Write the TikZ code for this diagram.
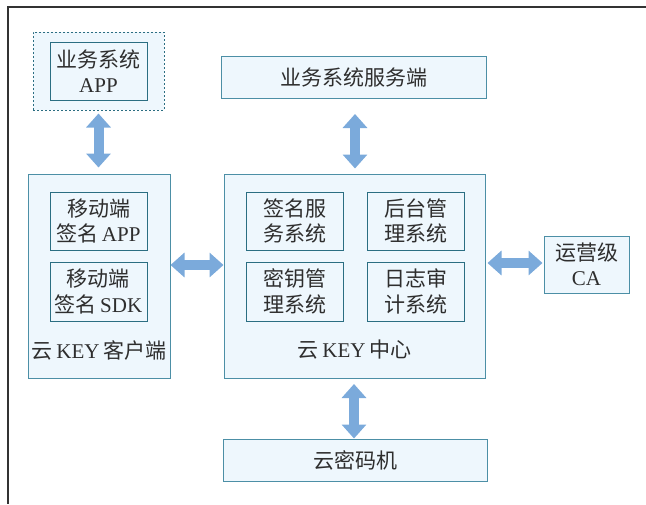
\documentclass[tikz,border=0pt]{standalone}
\usepackage{fontspec}
\setmainfont{Liberation Serif}
\newfontfamily\cjk{Noto Sans CJK SC}
\usetikzlibrary{arrows.meta}
\definecolor{boxfill}{HTML}{EEF7FD}
\definecolor{innerline}{HTML}{2B6E82}
\definecolor{outerline}{HTML}{4C8FA6}
\definecolor{arrowblue}{HTML}{7BAADB}
\definecolor{txt}{HTML}{2E2E2E}
\definecolor{frame}{HTML}{333333}
\tikzset{
  base/.style={draw, fill=boxfill, text=txt, align=center, inner sep=0pt,
    font=\fontsize{21}{25.5}\selectfont, line width=1pt},
  outerbox/.style={base, draw=outerline},
  innerbox/.style={base, draw=innerline, minimum width=97pt, minimum height=58pt},
  dashbox/.style={draw=innerline, fill=boxfill, dash pattern=on 2pt off 2pt, line width=1pt,
    minimum width=131pt, minimum height=78pt},
  lbl/.style={text=txt, font=\fontsize{21}{25.5}\selectfont, inner sep=0pt},
  bigarrow/.style={draw=arrowblue, line width=10pt,
    {Triangle[width=24pt,length=14pt]}-{Triangle[width=24pt,length=14pt]}},
}
\begin{document}
\begin{tikzpicture}[x=1pt,y=-1pt]
\useasboundingbox (0,0) rectangle (646,504);
\draw[frame, line width=1.6pt] (646,7) -- (8,7) -- (8,504);

% business app
\node[dashbox] (appouter) at (98.5,71) {};
\node[innerbox] (app) at (98.5,71) {{\cjk 业务系统}\\APP};

% server
\node[outerbox, minimum width=265pt, minimum height=42pt] (server) at (353.5,77) {\cjk 业务系统服务端};

% client
\node[outerbox, minimum width=142pt, minimum height=204pt] (client) at (99,276) {};
\node[innerbox] (mapp) at (98.5,221) {{\cjk 移动端}\\{\cjk 签名}\,APP};
\node[innerbox, minimum height=59pt] (msdk) at (98.5,291.5) {{\cjk 移动端}\\{\cjk 签名}\,SDK};
\node[lbl] (clientlbl) at (99,350) {{\cjk 云}\,KEY\,{\cjk 客户端}};

% center
\node[outerbox, minimum width=261pt, minimum height=204pt] (center) at (354.5,276) {};
\node[innerbox] (sign) at (294.5,221) {\cjk 签名服\\\cjk 务系统};
\node[innerbox] (admin) at (415.5,221) {\cjk 后台管\\\cjk 理系统};
\node[innerbox, minimum height=59pt] (keymgmt) at (294.5,291.5) {\cjk 密钥管\\\cjk 理系统};
\node[innerbox, minimum height=59pt] (audit) at (415.5,291.5) {\cjk 日志审\\\cjk 计系统};
\node[lbl] (centerlbl) at (354.5,350) {{\cjk 云}\,KEY\,{\cjk 中心}};

% CA
\node[outerbox, minimum width=85pt, minimum height=57pt] (ca) at (586.5,264.5) {{\cjk 运营级}\\CA};

% HSM
\node[outerbox, minimum width=264pt, minimum height=42pt] (hsm) at (355,460) {\cjk 云密码机};

% arrows
\draw[bigarrow, shorten <=3pt, shorten >=6pt] (appouter.south) -- (appouter.south |- client.north);
\draw[bigarrow, shorten <=16pt, shorten >=5pt] (355,98) coordinate (s1) -- (s1 |- center.north);
\draw[bigarrow] (client.east |- 0,265) coordinate (c1) -- (c1 -| center.west);
\draw[bigarrow, shorten <=2pt, shorten >=1pt] (center.east |- 0,263) coordinate (c2) -- (c2 -| ca.west);
\draw[bigarrow, shorten <=6pt] (354,378) coordinate (c3) -- (c3 |- hsm.north);
\end{tikzpicture}
\end{document}
